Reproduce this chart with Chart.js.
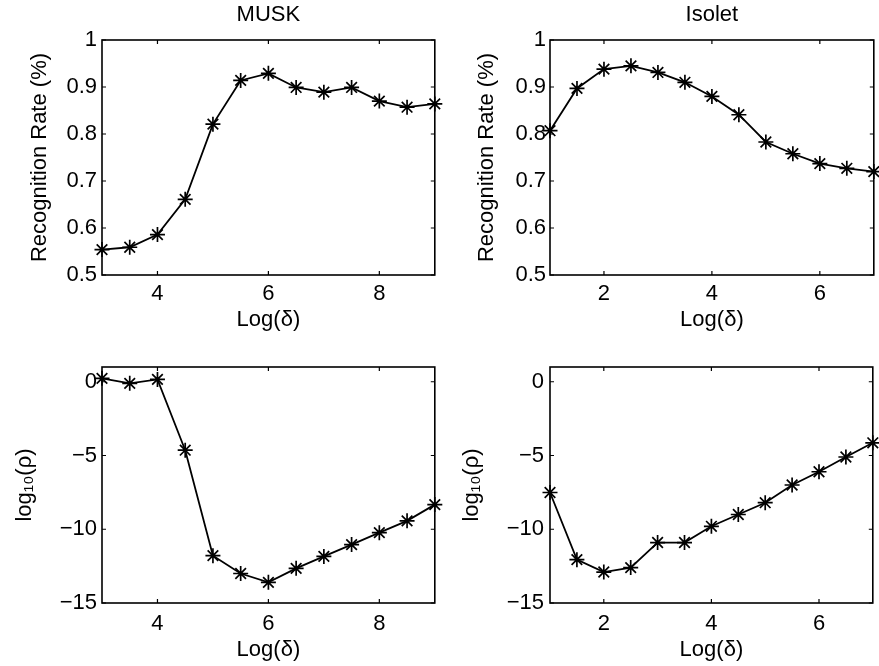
<!DOCTYPE html>
<html>
<head>
<meta charset="utf-8">
<script src="https://cdn.jsdelivr.net/npm/chart.js@4/dist/chart.umd.min.js"></script>
<style>
  html, body { margin: 0; background: #fff; overflow: hidden; }
  canvas { position: absolute; }
</style>
</head>
<body>
<canvas id="musk_rate" width="444" height="333" style="left:0;top:0"></canvas>
<canvas id="isolet_rate" width="443" height="333" style="left:440px;top:0"></canvas>
<canvas id="musk_rho" width="444" height="333" style="left:0;top:333px"></canvas>
<canvas id="isolet_rho" width="442" height="333" style="left:440px;top:333px"></canvas>
<script>
// Log(delta) values
const muskX = [3, 3.5, 4, 4.5, 5, 5.5, 6, 6.5, 7, 7.5, 8, 8.5, 9];
const isoletX = [1, 1.5, 2, 2.5, 3, 3.5, 4, 4.5, 5, 5.5, 6, 6.5, 7];

// recognition rate
const muskRate = [0.554, 0.559, 0.586, 0.661, 0.821, 0.914, 0.929, 0.899, 0.889, 0.899, 0.870, 0.857, 0.864];
const isoletRate = [0.807, 0.897, 0.938, 0.945, 0.931, 0.910, 0.880, 0.841, 0.783, 0.758, 0.737, 0.727, 0.720];

// log10(rho)
const muskRho = [0.23, -0.11, 0.16, -4.64, -11.79, -13.0, -13.6, -12.65, -11.84, -11.04, -10.23, -9.43, -8.33];
const isoletRho = [-7.51, -12.06, -12.9, -12.6, -10.9, -10.9, -9.8, -9.0, -8.2, -7.0, -6.1, -5.1, -4.14];

// tick labels
const muskXTicks = [4, 6, 8];
const isoletXTicks = [2, 4, 6];
const rateTicks = [0.5, 0.6, 0.7, 0.8, 0.9, 1];
const rhoTicks = [-15, -10, -5, 0];

const FONT = 'Liberation Sans, Arial, Helvetica, sans-serif';
const SIZE = 22;
const fmt = v => String(v).replace('-', '\u2212');

// box round the plot with small inward ticks, like matlab
const framePlugin = {
  id: 'frame',
  beforeDatasetsDraw(chart) {
    const { ctx, chartArea: a, scales } = chart;
    ctx.save();
    ctx.strokeStyle = '#000';
    ctx.lineWidth = 1.6;
    ctx.strokeRect(a.left, a.top, a.right - a.left, a.bottom - a.top);
    ctx.lineWidth = 1.2;
    ctx.beginPath();
    scales.x.ticks.forEach(t => {
      const px = scales.x.getPixelForValue(t.value);
      ctx.moveTo(px, a.bottom); ctx.lineTo(px, a.bottom - 4);
      ctx.moveTo(px, a.top); ctx.lineTo(px, a.top + 4);
    });
    scales.y.ticks.forEach(t => {
      const py = scales.y.getPixelForValue(t.value);
      ctx.moveTo(a.left, py); ctx.lineTo(a.left + 4, py);
      ctx.moveTo(a.right, py); ctx.lineTo(a.right - 4, py);
    });
    ctx.stroke();
    ctx.restore();
  }
};

function makePlot(id, xs, ys, o) {
  return new Chart(document.getElementById(id), {
    type: 'line',
    data: {
      datasets: [{
        data: xs.map((x, i) => ({ x: x, y: ys[i] })),
        borderColor: '#000',
        borderWidth: 1.8,
        pointStyle: 'star',
        pointRadius: 7.5,
        pointBorderWidth: 1.7,
        pointBorderColor: '#000',
        pointBackgroundColor: '#000',
        tension: 0,
        clip: false
      }]
    },
    options: {
      responsive: false,
      animation: false,
      layout: { padding: { top: o.padTop, right: 9, left: 0, bottom: 0 } },
      plugins: {
        legend: { display: false },
        tooltip: { enabled: false },
        title: {
          display: !!o.title,
          text: o.title,
          color: '#000',
          fullSize: false,
          font: { family: FONT, size: SIZE, weight: 'normal' },
          padding: { top: 2, bottom: 11.6 }
        }
      },
      scales: {
        x: {
          type: 'linear',
          min: o.xMin, max: o.xMax,
          afterBuildTicks: s => { s.ticks = o.xTicks.map(v => ({ value: v })); },
          afterFit: s => { s.height = o.xHeight; },
          grid: { display: false, drawTicks: false },
          border: { display: false },
          ticks: { color: '#000', padding: o.xTickPad, font: { family: FONT, size: SIZE }, callback: fmt, maxRotation: 0 },
          title: { display: true, text: 'Log(\u03b4)', color: '#000', font: { family: FONT, size: SIZE }, padding: { top: 0, bottom: o.xTitlePad } }
        },
        y: {
          type: 'linear',
          min: o.yMin, max: o.yMax,
          afterBuildTicks: s => { s.ticks = o.yTicks.map(v => ({ value: v })); },
          afterFit: s => { s.width = o.yWidth; },
          grid: { display: false, drawTicks: false },
          border: { display: false },
          ticks: { color: '#000', padding: o.yTickPad, font: { family: FONT, size: SIZE }, callback: fmt },
          title: { display: true, text: o.yLabel, color: '#000', font: { family: FONT, size: SIZE }, padding: { top: o.yTitlePad, bottom: 0 } }
        }
      }
    },
    plugins: [framePlugin]
  });
}

makePlot('musk_rate', muskX, muskRate, {
  title: 'MUSK', yLabel: 'Recognition Rate (%)',
  xMin: 3, xMax: 9, yMin: 0.5, yMax: 1, xTicks: muskXTicks, yTicks: rateTicks,
  padTop: 0, xHeight: 58, yWidth: 102, xTickPad: 6, xTitlePad: 0, yTickPad: 5, yTitlePad: 27
});
makePlot('isolet_rate', isoletX, isoletRate, {
  title: 'Isolet', yLabel: 'Recognition Rate (%)',
  xMin: 1, xMax: 7, yMin: 0.5, yMax: 1, xTicks: isoletXTicks, yTicks: rateTicks,
  padTop: 0, xHeight: 58, yWidth: 110, xTickPad: 6, xTitlePad: 0, yTickPad: 4, yTitlePad: 34
});
makePlot('musk_rho', muskX, muskRho, {
  title: '', yLabel: 'log\u2081\u2080(\u03c1)',
  xMin: 3, xMax: 9, yMin: -15, yMax: 1, xTicks: muskXTicks, yTicks: rhoTicks,
  padTop: 34, xHeight: 63, yWidth: 102, xTickPad: 8, xTitlePad: 3, yTickPad: 5, yTitlePad: 12
});
makePlot('isolet_rho', isoletX, isoletRho, {
  title: '', yLabel: 'log\u2081\u2080(\u03c1)',
  xMin: 1, xMax: 7, yMin: -15, yMax: 1, xTicks: isoletXTicks, yTicks: rhoTicks,
  padTop: 34, xHeight: 63, yWidth: 110, xTickPad: 8, xTitlePad: 3, yTickPad: 6, yTitlePad: 19
});
</script>
</body>
</html>
